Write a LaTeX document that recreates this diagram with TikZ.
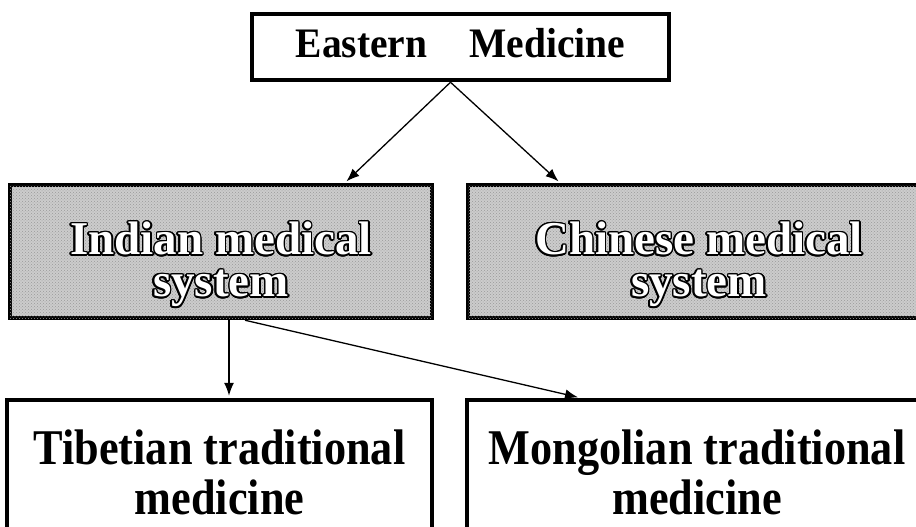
\documentclass[tikz,border=0pt]{standalone}
\usepackage{fontspec}
\setmainfont{Liberation Serif}
\newfontfamily\topfont[FakeStretch=0.94]{Liberation Serif}
\newfontfamily\boxfont[FakeStretch=0.885]{Liberation Serif}
\usepackage{contour}
\contourlength{1.6pt}
\usetikzlibrary{calc,patterns,arrows.meta}

\begin{document}
\begin{tikzpicture}[>={Latex[length=13pt,width=10pt]},x=1pt,y=-1pt,
	plainbox/.style={draw,line width=4.5pt,fill=white,align=center,inner sep=0pt},
	greybox/.style={draw,line width=4.5pt,fill=black!20,align=center,inner sep=0pt,
		postaction={pattern=crosshatch dots,pattern color=black!40}},
	link/.style={->,line width=1.3pt,shorten >=2pt}]
\def\glow#1{{\color{white}\contour{black}{#1}}}

\useasboundingbox (0,0) rectangle (916,527);

\node[plainbox,minimum width=417pt,minimum height=66pt,
	font=\topfont\bfseries\fontsize{42}{44}\selectfont]
	(east) at (460.5,47) {Eastern\hspace{42pt}Medicine\rule[-8pt]{0pt}{0pt}};

\node[greybox,minimum width=422pt,minimum height=133pt,
	font=\bfseries\fontsize{47}{42}\selectfont]
	(indian) at (221,251.5) {\rule{0pt}{60pt}\glow{Indian medical}\\\glow{system}};
\node[greybox,minimum width=462pt,minimum height=133pt,
	font=\bfseries\fontsize{47}{42}\selectfont]
	(chinese) at (699,251.5) {\rule{0pt}{60pt}\glow{Chinese medical}\\\glow{system}};

\node[plainbox,minimum width=425pt,minimum height=135pt,
	font=\boxfont\bfseries\fontsize{50}{50}\selectfont]
	(tibet) at (219.5,467.5) {\rule{0pt}{45pt}Tibetian traditional\\medicine};
\node[plainbox,minimum width=460pt,minimum height=135pt,
	font=\boxfont\bfseries\fontsize{50}{50}\selectfont]
	(mongol) at (697,467.5) {\rule{0pt}{45pt}Mongolian traditional\\medicine};

\coordinate (split) at ($(east.south)+(-10,0)$);
\coordinate (toind) at ($(indian.north)+(124,0)$);
\coordinate (tochi) at ($(chinese.north)+(-139,0)$);
\coordinate (downa) at ($(indian.south)+(8,0)$);
\coordinate (downb) at ($(indian.south)+(24,0)$);
\coordinate (totib) at ($(tibet.north)+(9.5,0)$);
\coordinate (tomon) at ($(mongol.north)+(-117,0)$);

\draw[link] (split) -- (toind);
\draw[link] (split) -- (tochi);
\draw[link] (downa) -- (totib);
\draw[link] (downb) -- (tomon);

\end{tikzpicture}
\end{document}
